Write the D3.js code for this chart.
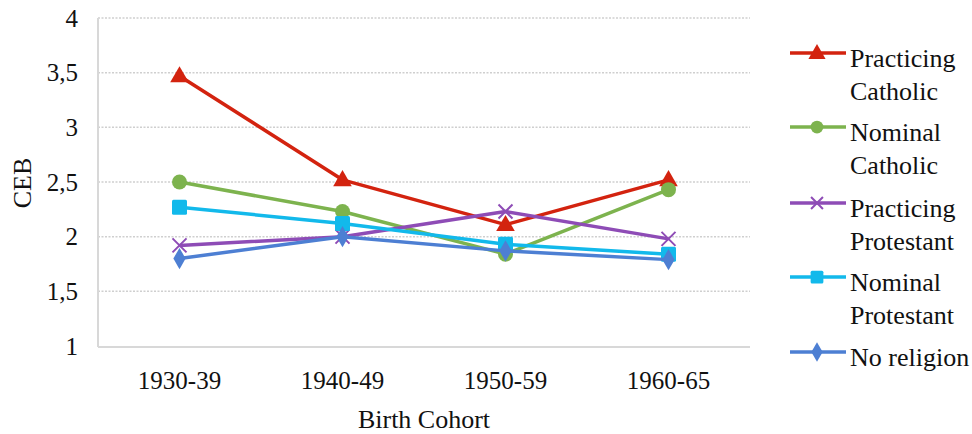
<!DOCTYPE html>
<html><head><meta charset="utf-8">
<script src="https://cdn.jsdelivr.net/npm/d3@7"></script>
<style>body{margin:0;background:#fff}svg{display:block}</style>
</head><body><svg id="c" width="972" height="434" font-family="'Liberation Serif', 'DejaVu Serif', serif"></svg>
<script>
const categories = ["1930-39","1940-49","1950-59","1960-65"];
const seriesNames = ["Practicing Catholic","Nominal Catholic","Practicing Protestant","Nominal Protestant","No religion"];
const practicingCatholic = [3.47, 2.52, 2.11, 2.52];
const nominalCatholic = [2.50, 2.23, 1.84, 2.43];
const practicingProtestant = [1.92, 2.00, 2.23, 1.98];
const nominalProtestant = [2.27, 2.12, 1.93, 1.84];
const noReligion = [1.80, 2.00, 1.87, 1.79];
const yTicks = [1, 1.5, 2, 2.5, 3, 3.5, 4];
const yTickLabels = ["1","1,5","2","2,5","3","3,5","4"];
const legendLines = [["Practicing","Catholic"],["Nominal","Catholic"],["Practicing","Protestant"],["Nominal","Protestant"],["No religion"]];

const colors = ["#d3230f","#7db34e","#8e4cb6","#12b9eb","#4d7fd3"];
const shapes = ["triangle","circle","x","square","diamond"];
const values = [practicingCatholic, nominalCatholic, practicingProtestant, nominalProtestant, noReligion];
const FONT = "'Liberation Serif', 'DejaVu Serif', serif";

const svg = d3.select("#c");
const L = 98, R = 750, T = 18, B = 346;
const x = d3.scaleBand().domain(categories).range([L, R]);
const y = d3.scaleLinear().domain([1, 4]).range([B, T]);

function txt(sel) { return sel.attr("font-family", FONT).style("font-family", FONT).attr("fill", "#111"); }

// gridlines
svg.append("g").selectAll("line").data(yTicks.filter(d => d > 1)).join("line")
  .attr("x1", L).attr("x2", R).attr("y1", d => y(d)).attr("y2", d => y(d))
  .attr("stroke", "#cfcfcf").attr("stroke-width", 1.5).attr("stroke-dasharray", "2,1.5");
// axes border
svg.append("line").attr("x1", L).attr("x2", L).attr("y1", T).attr("y2", B + 1).attr("stroke", "#d8d8d8").attr("stroke-width", 2);
svg.append("line").attr("x1", L).attr("x2", R).attr("y1", B + 1).attr("y2", B + 1).attr("stroke", "#d8d8d8").attr("stroke-width", 2);

// y tick labels
txt(svg.append("g").selectAll("text").data(yTicks).join("text")
  .attr("x", 78).attr("y", d => y(d)).attr("dy", "0.35em").attr("text-anchor", "end")
  .style("font-size", "25px").text((d, i) => yTickLabels[i]));
// x tick labels
txt(svg.append("g").selectAll("text").data(categories).join("text")
  .attr("x", d => x(d) + x.bandwidth() / 2).attr("y", 389).attr("text-anchor", "middle")
  .style("font-size", "25px").text(d => d));
// axis titles
txt(svg.append("text").attr("transform", "translate(31,183) rotate(-90)").attr("text-anchor", "middle")
  .style("font-size", "26px").text("CEB"));
txt(svg.append("text").attr("x", 424).attr("y", 428).attr("text-anchor", "middle")
  .style("font-size", "26px").text("Birth Cohort"));

function marker(g, shape, color, cx, cy, s) {
  if (shape === "triangle") {
    g.append("path").attr("d", d3.symbol(d3.symbolTriangle, 150 * s)()).attr("transform", `translate(${cx},${cy + 1})`).attr("fill", color);
  } else if (shape === "circle") {
    g.append("circle").attr("cx", cx).attr("cy", cy).attr("r", 7.5 * s).attr("fill", color);
  } else if (shape === "square") {
    g.append("rect").attr("x", cx - 7.5 * s).attr("y", cy - 7.5 * s).attr("width", 15 * s).attr("height", 15 * s).attr("rx", 1.5).attr("fill", color);
  } else if (shape === "diamond") {
    g.append("path").attr("d", d3.symbol(d3.symbolDiamond, 130 * s)()).attr("transform", `translate(${cx},${cy})`).attr("fill", color);
  } else if (shape === "x") {
    const h = 7 * s;
    g.append("path").attr("d", `M${cx - h},${cy - h}L${cx + h},${cy + h}M${cx - h},${cy + h}L${cx + h},${cy - h}`)
      .attr("stroke", color).attr("stroke-width", 2).attr("fill", "none");
  }
}

const line = d3.line().x((d, i) => x(categories[i]) + x.bandwidth() / 2).y(d => y(d));
values.forEach((vals, si) => {
  const g = svg.append("g");
  g.append("path").attr("d", line(vals)).attr("fill", "none").attr("stroke", colors[si]).attr("stroke-width", 3.5).attr("stroke-linejoin", "round");
  vals.forEach((v, i) => marker(g, shapes[si], colors[si], x(categories[i]) + x.bandwidth() / 2, y(v), 1));
});

// legend
const legendY = [53, 127, 203, 277, 352];
seriesNames.forEach((name, si) => {
  const g = svg.append("g");
  const ly = legendY[si];
  g.append("line").attr("x1", 790).attr("x2", 846).attr("y1", ly).attr("y2", ly).attr("stroke", colors[si]).attr("stroke-width", 3.5);
  marker(g, shapes[si], colors[si], 817, ly, 0.85);
  legendLines[si].forEach((t, k) => {
    txt(g.append("text").attr("x", 850).attr("y", ly + 14 + k * 33).style("font-size", "26px").text(t));
  });
});
</script></body></html>
